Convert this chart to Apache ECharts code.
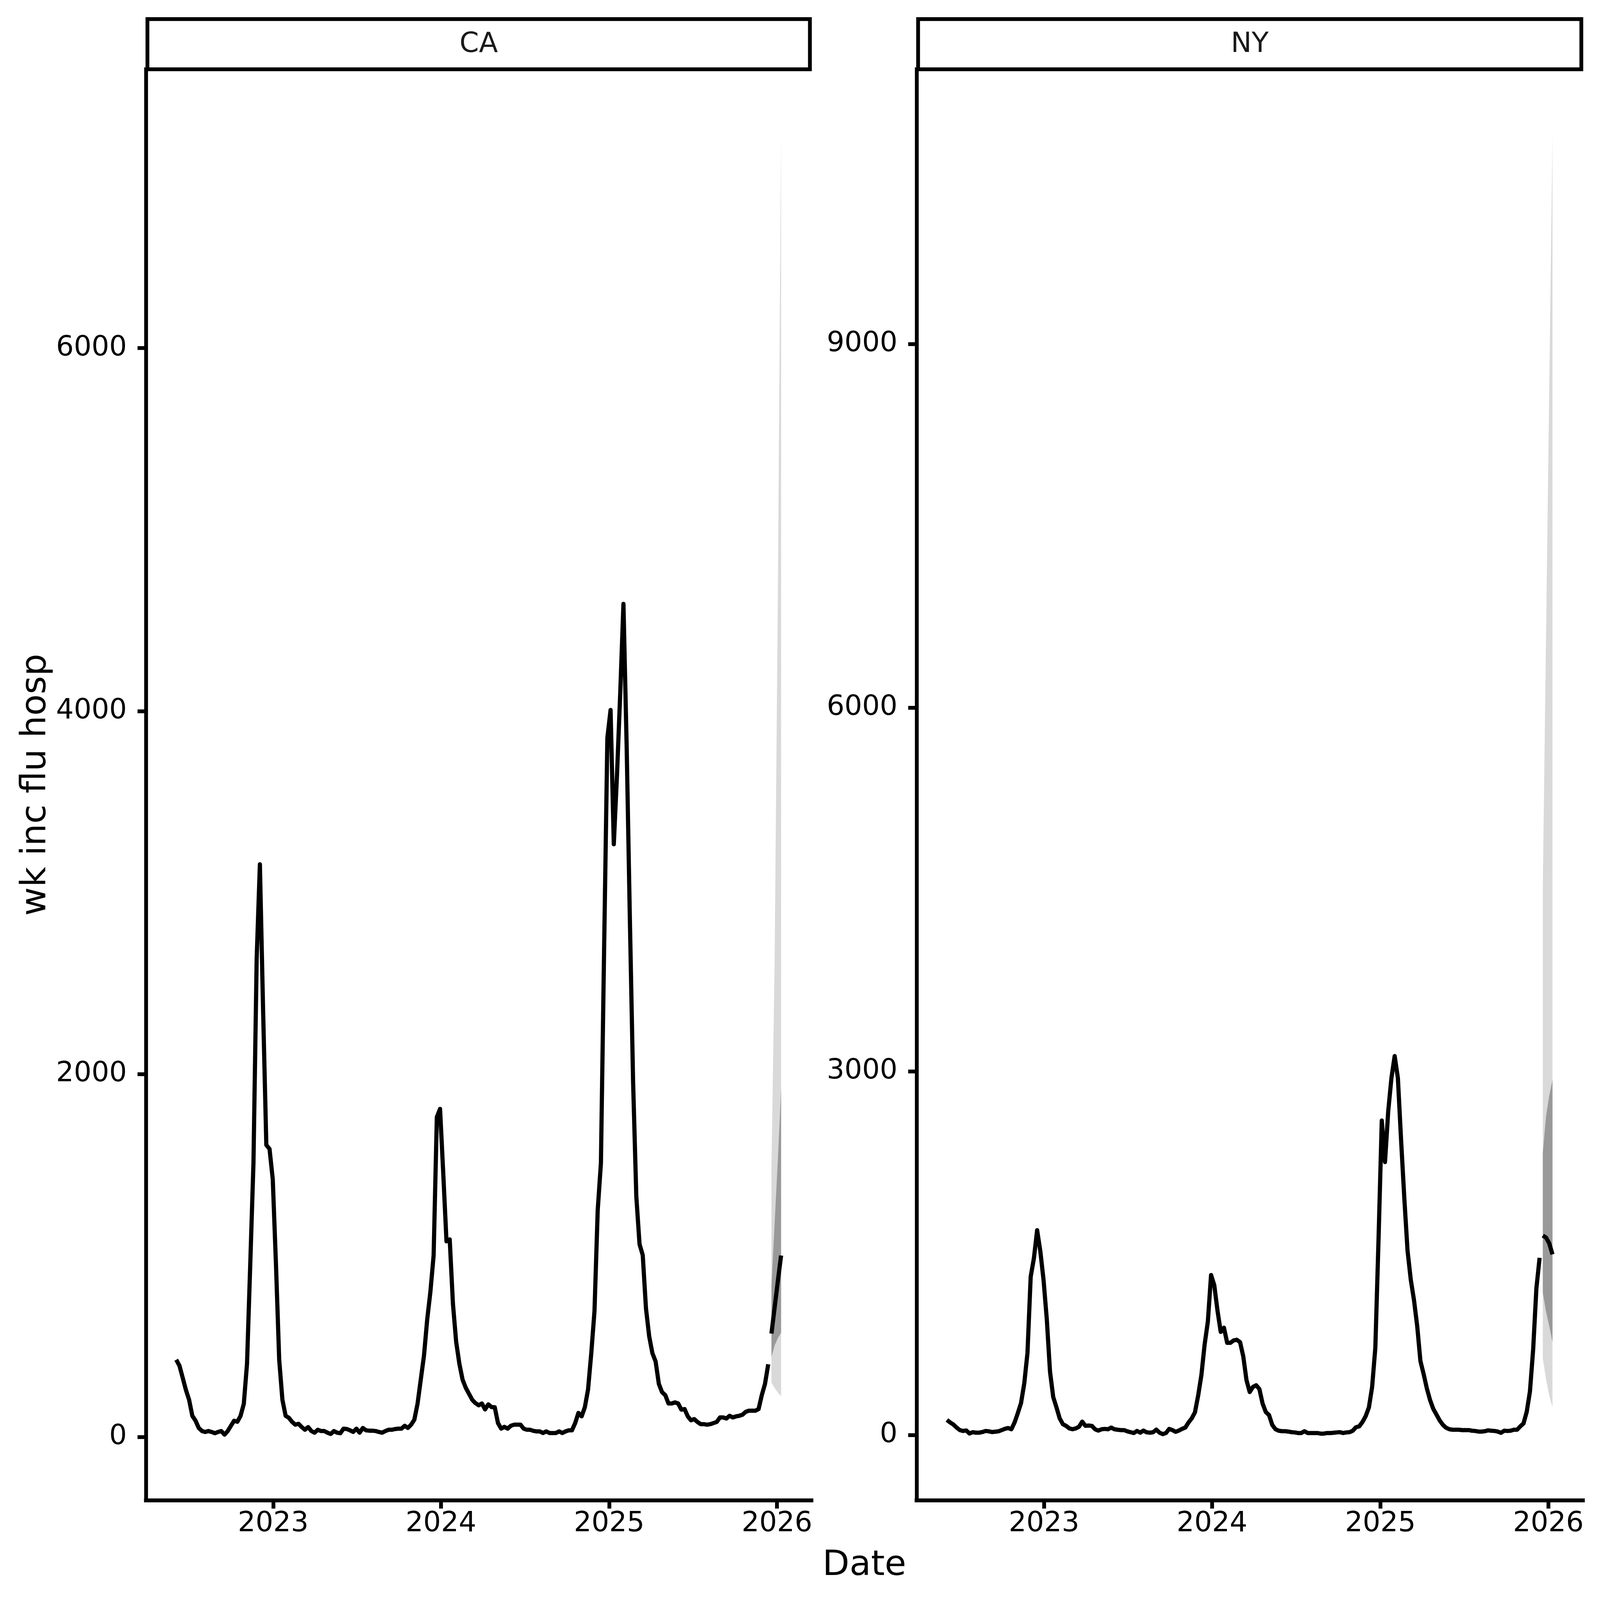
<!DOCTYPE html>
<html>
<head>
<meta charset="utf-8">
<script src="https://cdn.jsdelivr.net/npm/echarts@6/dist/echarts.min.js"></script>
<style>html,body{margin:0;padding:0;background:#ffffff;overflow:hidden}#chart{position:absolute;left:0;top:0}</style>
</head>
<body>
<div id="chart"></div>
<script>
// ---------------- data ----------------
const panels = ['CA', 'NY'];
const firstWeek = '2022-06-04';           // first weekly observation (Saturday)
const yearTicks = ['2023-01-01', '2024-01-01', '2025-01-01', '2026-01-01'];
const caYTicks = [0, 2000, 4000, 6000];
const nyYTicks = [0, 3000, 6000, 9000];

const caObserved = [
  426, 393, 327, 260, 205, 117, 90, 50, 33, 28,
  33, 28, 21, 28, 33, 13, 33, 62, 90, 84,
  117, 183, 404, 950, 1509, 2636, 3156, 2350, 1609, 1587,
  1420, 950, 426, 205, 117, 106, 84, 68, 73, 55,
  40, 55, 33, 24, 40, 33, 33, 24, 17, 33,
  24, 21, 46, 44, 37, 28, 46, 24, 50, 37,
  35, 35, 33, 28, 24, 33, 40, 40, 44, 46,
  46, 62, 50, 68, 95, 183, 316, 448, 647, 801,
  1001, 1763, 1808, 1450, 1078, 1089, 735, 525, 404, 316,
  271, 238, 205, 187, 175, 185, 152, 180, 165, 164,
  77, 46, 56, 46, 62, 68, 68, 68, 46, 40,
  40, 34, 31, 31, 22, 31, 22, 22, 22, 31,
  22, 31, 37, 37, 77, 133, 114, 164, 262, 462,
  694, 1250, 1510, 2700, 3852, 4006, 3266, 3651, 4098, 4591,
  3805, 2850, 1957, 1325, 1063, 1002, 709, 555, 462, 416,
  293, 247, 231, 185, 185, 191, 185, 151, 154, 114,
  92, 99, 83, 71, 71, 68, 71, 77, 83, 108,
  108, 102, 117, 108, 114, 117, 123, 139, 145, 145,
  145, 154, 231, 293, 401
];

const nyObserved = [
  125, 104, 87, 62, 41, 34, 38, 13, 24, 20,
  20, 25, 34, 31, 25, 28, 31, 41, 52, 58,
  48, 104, 181, 264, 425, 677, 1306, 1459, 1690, 1515,
  1278, 956, 523, 313, 229, 138, 90, 76, 55, 48,
  55, 69, 111, 76, 79, 76, 48, 37, 48, 51,
  48, 62, 48, 44, 41, 41, 31, 24, 17, 34,
  20, 37, 23, 20, 23, 45, 20, 8, 17, 51,
  41, 27, 37, 51, 62, 104, 138, 188, 327, 495,
  747, 935, 1320, 1236, 1026, 851, 886, 761, 761, 781,
  786, 767, 649, 453, 355, 397, 411, 380, 260, 190,
  165, 84, 48, 36, 32, 32, 29, 24, 22, 17,
  17, 32, 17, 17, 17, 17, 12, 12, 17, 17,
  19, 22, 24, 17, 22, 24, 36, 65, 72, 108,
  156, 228, 396, 720, 1620, 2594, 2252, 2671, 2946, 3126,
  2946, 2431, 1953, 1521, 1282, 1114, 899, 611, 503, 384,
  288, 216, 168, 120, 84, 60, 48, 44, 44, 44,
  41, 41, 41, 36, 34, 29, 29, 32, 39, 36,
  34, 29, 19, 36, 34, 36, 44, 44, 72, 96,
  192, 360, 707, 1210, 1462
];

const forecastDates = ['2025-12-20', '2025-12-27', '2026-01-03', '2026-01-10'];
const caMedian  = [570, 715, 860, 1000];
const caLow50   = [440, 505, 545, 575];
const caHigh50  = [830, 1180, 1530, 1920];
const caLow95   = [300, 270, 245, 225];
const caHigh95  = [1480, 2640, 4650, 7170];
const nyMedian  = [1646, 1629, 1581, 1490];
const nyLow50   = [1174, 1018, 899, 767];
const nyHigh50  = [2330, 2630, 2800, 2930];
const nyLow95   = [630, 460, 325, 230];
const nyHigh95  = [4550, 6600, 8650, 10730];

// ---------------- helpers ----------------
function toTs(s) {
  return Date.UTC(+s.slice(0, 4), +s.slice(5, 7) - 1, +s.slice(8, 10));
}
function weeklyDates(start, n) {
  const t0 = toTs(start);
  const out = [];
  for (let k = 0; k < n; k++) out.push(t0 + k * 7 * 86400000);
  return out;
}
function pairs(xs, ys) { return ys.map(function (v, k) { return [xs[k], v]; }); }

const obsDates = weeklyDates(firstWeek, caObserved.length);
const fcTs = forecastDates.map(toTs);
const tickTs = yearTicks.map(toTs);

// layout is designed on a 4200 px square and scaled to the actual viewport
const W = window.innerWidth || 4200;
const H = window.innerHeight || 4200;
const S = Math.min(W, H) / 4200;
const px = function (v) { return v * S; };

const dom = document.getElementById('chart');
dom.style.width = px(4200) + 'px';
dom.style.height = px(4200) + 'px';

const FONT = 'DejaVu Sans';
const AXW = px(10);
const DLW = px(11);

const grids = [
  { left: px(383), top: px(182), width: px(1747), height: px(3756) },
  { left: px(2406), top: px(182), width: px(1749), height: px(3756) }
];

function xAxisFor(idx) {
  return {
    type: 'value', gridIndex: idx, scale: true,
    min: toTs('2022-03-30'), max: toTs('2026-03-17'),
    axisLine: { show: true, onZero: false, lineStyle: { color: '#000', width: AXW, cap: 'square' } },
    axisTick: { show: true, length: px(22), customValues: tickTs, lineStyle: { color: '#000', width: AXW } },
    axisLabel: {
      show: true, customValues: tickTs, margin: px(26),
      formatter: function (v) { return String(new Date(v).getUTCFullYear()); },
      fontSize: px(73), fontFamily: FONT, color: '#000'
    },
    splitLine: { show: false }, minorTick: { show: false }
  };
}
function yAxisFor(idx, min, max, ticks) {
  return {
    type: 'value', gridIndex: idx, min: min, max: max,
    axisLine: { show: true, onZero: false, lineStyle: { color: '#000', width: AXW, cap: 'square' } },
    axisTick: { show: true, length: px(22), customValues: ticks, lineStyle: { color: '#000', width: AXW } },
    axisLabel: {
      show: true, customValues: ticks, margin: px(50),
      formatter: function (v) { return String(v); },
      fontSize: px(73), fontFamily: FONT, color: '#000'
    },
    splitLine: { show: false }
  };
}
function band(idx, lower, upper, color, z) {
  return {
    type: 'custom', xAxisIndex: idx, yAxisIndex: idx, silent: true, z: z, clip: true,
    data: [[fcTs[0], lower[0]]],
    renderItem: function (params, api) {
      const pts = [];
      for (let k = 0; k < fcTs.length; k++) pts.push(api.coord([fcTs[k], upper[k]]));
      for (let k = fcTs.length - 1; k >= 0; k--) pts.push(api.coord([fcTs[k], lower[k]]));
      return { type: 'polygon', shape: { points: pts }, style: { fill: color } };
    }
  };
}
function line(idx, data, z) {
  return {
    type: 'line', xAxisIndex: idx, yAxisIndex: idx, data: data, z: z,
    showSymbol: false, symbol: 'none', silent: true, smooth: false,
    lineStyle: { color: '#000', width: DLW, join: 'round', cap: 'butt' }
  };
}

const LIGHT = '#d9d9d9';
const DARK = '#999999';

const series = [
  band(0, caLow95, caHigh95, LIGHT, 1),
  band(0, caLow50, caHigh50, DARK, 2),
  line(0, pairs(obsDates, caObserved), 3),
  line(0, pairs(fcTs, caMedian), 3),
  band(1, nyLow95, nyHigh95, LIGHT, 1),
  band(1, nyLow50, nyHigh50, DARK, 2),
  line(1, pairs(obsDates, nyObserved), 3),
  line(1, pairs(fcTs, nyMedian), 3)
];

const graphics = [];
grids.forEach(function (g, k) {
  graphics.push({
    type: 'rect', z: 10,
    shape: { x: g.left + px(4), y: px(50), width: g.width - px(8), height: px(132) },
    style: { fill: '#ffffff', stroke: '#000', lineWidth: px(10) }
  });
  graphics.push({
    type: 'text', z: 11, x: g.left + g.width / 2, y: px(117),
    style: { text: panels[k], fontSize: px(73), fontFamily: FONT, fill: '#1a1a1a', textAlign: 'center', textVerticalAlign: 'middle' }
  });
});
graphics.push({
  type: 'text', z: 11, x: px(95), y: px(2060), rotation: Math.PI / 2,
  style: { text: 'wk inc flu hosp', fontSize: px(92), fontFamily: FONT, fill: '#000', textAlign: 'center', textVerticalAlign: 'middle' }
});
graphics.push({
  type: 'text', z: 11, x: px(2269), y: px(4110),
  style: { text: 'Date', fontSize: px(92), fontFamily: FONT, fill: '#000', textAlign: 'center', textVerticalAlign: 'middle' }
});

const chart = echarts.init(dom, null, { renderer: 'canvas' });
chart.setOption({
  animation: false,
  backgroundColor: '#ffffff',
  grid: grids,
  xAxis: [xAxisFor(0), xAxisFor(1)],
  yAxis: [yAxisFor(0, -348, 7536, caYTicks), yAxisFor(1, -537, 11265, nyYTicks)],
  series: series,
  graphic: { elements: graphics }
});
</script>
</body>
</html>
